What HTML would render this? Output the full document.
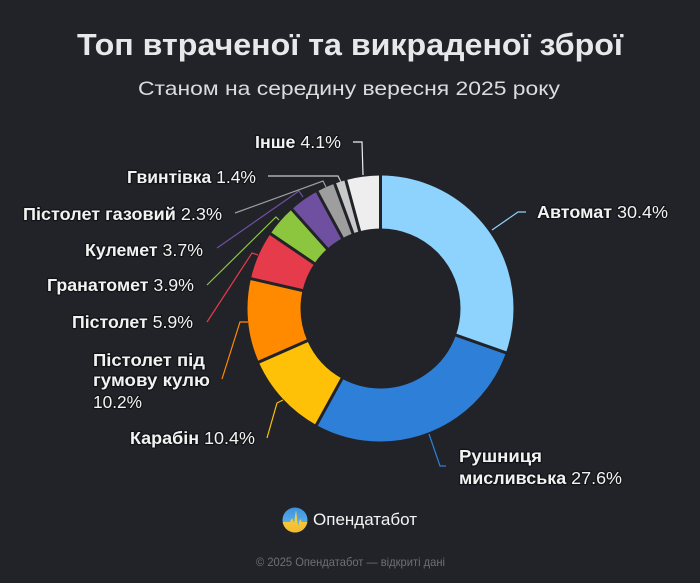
<!DOCTYPE html>
<html>
<head>
<meta charset="utf-8">
<style>
  html, body { margin:0; padding:0; background:#212328; }
  body { width:700px; height:583px; overflow:hidden; }
  svg { display:block; }
  text { font-family: "Liberation Sans", "Noto Sans CJK SC", sans-serif; }
  .lbl { fill:#f2f2f2; font-size:17.5px; stroke:#131417; stroke-width:2.5px; paint-order:stroke; stroke-linejoin:round; }
  .b { font-weight:bold; }
  .lead { fill:none; stroke-width:1.2; }
</style>
</head>
<body>
<svg width="700" height="583" viewBox="0 0 700 583" xmlns="http://www.w3.org/2000/svg">
  <rect width="700" height="583" fill="#212328"/>

  <!-- Title -->
  <text x="77" y="55" font-size="31" font-weight="bold" fill="#e8e8ea" textLength="546" lengthAdjust="spacingAndGlyphs">Топ втраченої та викраденої зброї</text>
  <text x="138" y="95" font-size="19.5" fill="#dcdcde" textLength="422" lengthAdjust="spacingAndGlyphs">Станом на середину вересня 2025 року</text>

  <!-- Donut -->
  <g transform="rotate(-90 380.5 308.5)" fill="none" stroke-width="53">
    <circle cx="380.5" cy="308.5" r="106.5" pathLength="100" stroke="#8dd3fd" stroke-dasharray="30.4 200" stroke-dashoffset="0"/>
    <circle cx="380.5" cy="308.5" r="106.5" pathLength="100" stroke="#2e7fd8" stroke-dasharray="27.6 200" stroke-dashoffset="-30.4"/>
    <circle cx="380.5" cy="308.5" r="106.5" pathLength="100" stroke="#ffc107" stroke-dasharray="10.4 200" stroke-dashoffset="-58"/>
    <circle cx="380.5" cy="308.5" r="106.5" pathLength="100" stroke="#ff8a00" stroke-dasharray="10.2 200" stroke-dashoffset="-68.4"/>
    <circle cx="380.5" cy="308.5" r="106.5" pathLength="100" stroke="#e63b4a" stroke-dasharray="5.9 200" stroke-dashoffset="-78.6"/>
    <circle cx="380.5" cy="308.5" r="106.5" pathLength="100" stroke="#8cc63f" stroke-dasharray="3.9 200" stroke-dashoffset="-84.5"/>
    <circle cx="380.5" cy="308.5" r="106.5" pathLength="100" stroke="#6f4fa0" stroke-dasharray="3.7 200" stroke-dashoffset="-88.4"/>
    <circle cx="380.5" cy="308.5" r="106.5" pathLength="100" stroke="#9e9e9e" stroke-dasharray="2.3 200" stroke-dashoffset="-92.1"/>
    <circle cx="380.5" cy="308.5" r="106.5" pathLength="100" stroke="#c9c9c9" stroke-dasharray="1.4 200" stroke-dashoffset="-94.4"/>
    <circle cx="380.5" cy="308.5" r="106.5" pathLength="100" stroke="#eeeeee" stroke-dasharray="4.2 200" stroke-dashoffset="-95.8"/>
  </g>
  <!-- gaps -->
  <g stroke="#212328" stroke-width="3">
    <line x1="380.5" y1="240" x2="380.5" y2="165" transform="rotate(0 380.5 308.5)"/>
    <line x1="380.5" y1="240" x2="380.5" y2="165" transform="rotate(109.44 380.5 308.5)"/>
    <line x1="380.5" y1="240" x2="380.5" y2="165" transform="rotate(208.8 380.5 308.5)"/>
    <line x1="380.5" y1="240" x2="380.5" y2="165" transform="rotate(246.24 380.5 308.5)"/>
    <line x1="380.5" y1="240" x2="380.5" y2="165" transform="rotate(282.96 380.5 308.5)"/>
    <line x1="380.5" y1="240" x2="380.5" y2="165" transform="rotate(304.2 380.5 308.5)"/>
    <line x1="380.5" y1="240" x2="380.5" y2="165" transform="rotate(318.24 380.5 308.5)"/>
    <line x1="380.5" y1="240" x2="380.5" y2="165" transform="rotate(331.56 380.5 308.5)"/>
    <line x1="380.5" y1="240" x2="380.5" y2="165" transform="rotate(339.84 380.5 308.5)"/>
    <line x1="380.5" y1="240" x2="380.5" y2="165" transform="rotate(344.88 380.5 308.5)"/>
  </g>

  <!-- Leader lines -->
  <polyline class="lead" stroke="#8dd3fd" points="492,230 518,212 526,212"/>
  <polyline class="lead" stroke="#2e7fd8" points="429,434 440,466 446,466"/>
  <polyline class="lead" stroke="#ffc107" points="267,438 277,403 283,400"/>
  <polyline class="lead" stroke="#ff8a00" points="222,379 240,322 248,322"/>
  <polyline class="lead" stroke="#e63b4a" points="207,322 252,253 258,255"/>
  <polyline class="lead" stroke="#8cc63f" points="207,285 276,217 279,220"/>
  <polyline class="lead" stroke="#6f4fa0" points="217,248 299,191 303,197"/>
  <polyline class="lead" stroke="#9e9e9e" points="235,213 323,181 326,187"/>
  <polyline class="lead" stroke="#c9c9c9" points="268,176 338,176 341,182"/>
  <polyline class="lead" stroke="#eeeeee" points="353,142 362,142 363,175"/>

  <!-- Labels -->
  <text class="lbl" x="537" y="218" textLength="131" lengthAdjust="spacingAndGlyphs"><tspan class="b">Автомат</tspan> 30.4%</text>
  <text class="lbl b" x="459" y="462" textLength="83" lengthAdjust="spacingAndGlyphs">Рушниця</text>
  <text class="lbl" x="459" y="484" textLength="163" lengthAdjust="spacingAndGlyphs"><tspan class="b">мисливська</tspan> 27.6%</text>
  <text class="lbl" x="255" y="148" textLength="86" lengthAdjust="spacingAndGlyphs"><tspan class="b">Інше</tspan> 4.1%</text>
  <text class="lbl" x="127" y="183" textLength="129" lengthAdjust="spacingAndGlyphs"><tspan class="b">Гвинтівка</tspan> 1.4%</text>
  <text class="lbl" x="23" y="220" textLength="199" lengthAdjust="spacingAndGlyphs"><tspan class="b">Пістолет газовий</tspan> 2.3%</text>
  <text class="lbl" x="85" y="256" textLength="118" lengthAdjust="spacingAndGlyphs"><tspan class="b">Кулемет</tspan> 3.7%</text>
  <text class="lbl" x="47" y="291" textLength="147" lengthAdjust="spacingAndGlyphs"><tspan class="b">Гранатомет</tspan> 3.9%</text>
  <text class="lbl" x="72" y="328" textLength="121" lengthAdjust="spacingAndGlyphs"><tspan class="b">Пістолет</tspan> 5.9%</text>
  <text class="lbl b" x="93" y="366" textLength="112" lengthAdjust="spacingAndGlyphs">Пістолет під</text>
  <text class="lbl b" x="93" y="386" textLength="117" lengthAdjust="spacingAndGlyphs">гумову кулю</text>
  <text class="lbl" x="93" y="408" textLength="49" lengthAdjust="spacingAndGlyphs">10.2%</text>
  <text class="lbl" x="130" y="444" textLength="125" lengthAdjust="spacingAndGlyphs"><tspan class="b">Карабін</tspan> 10.4%</text>

  <!-- Logo -->
  <defs>
    <clipPath id="lc"><circle cx="295" cy="520" r="12.5"/></clipPath>
    <linearGradient id="lb" x1="0" y1="0" x2="0" y2="1">
      <stop offset="0" stop-color="#3d8fdc"/>
      <stop offset="1" stop-color="#6cc3f0"/>
    </linearGradient>
    <linearGradient id="ly" x1="0" y1="0" x2="0" y2="1">
      <stop offset="0" stop-color="#f7d64a"/>
      <stop offset="1" stop-color="#f3b92a"/>
    </linearGradient>
  </defs>
  <g clip-path="url(#lc)">
    <rect x="282" y="507" width="26" height="26" fill="url(#lb)"/>
    <polygon fill="url(#ly)" points="282,522 290,522 292,518 294,523 296,510 298,526 300,519 302,522 308,522 308,533 282,533"/>
  </g>
  <text x="313" y="525" font-size="17" fill="#f4f4f4" textLength="104" lengthAdjust="spacingAndGlyphs">Опендатабот</text>

  <!-- Footer -->
  <text x="256" y="566" font-size="12" fill="#6f7075" textLength="189" lengthAdjust="spacingAndGlyphs">© 2025 Опендатабот — відкриті дані</text>
</svg>
</body>
</html>
